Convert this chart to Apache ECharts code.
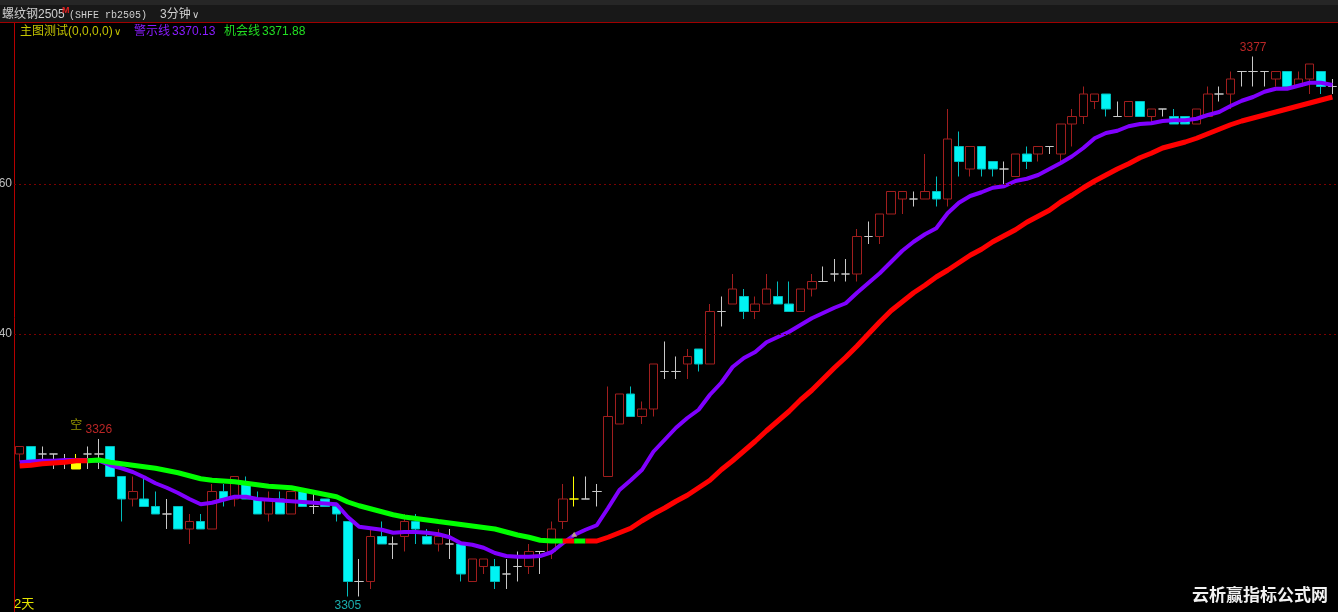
<!DOCTYPE html>
<html><head><meta charset="utf-8">
<script src="https://cdn.jsdelivr.net/npm/echarts@6/dist/echarts.min.js"></script>
<style>html,body{margin:0;padding:0;background:#000;overflow:hidden}#c{width:1338px;height:612px}</style>
</head><body><div id="c"></div>
<script>
// ---- data (3-minute bars, rb2505) : [open, close, low, high]
const bars = [
[3324,3325,3323,3325],[3325,3323,3323,3325],[3324,3324,3323,3325],[3324,3324,3322,3324],
[3323,3323,3322,3324],[3323,3322,3322,3324],[3324,3324,3322,3325],[3324,3324,3322,3326],
[3325,3321,3321,3325],[3321,3318,3315,3321],[3318,3319,3317,3321],[3318,3317,3317,3321],
[3317,3316,3316,3319],[3316,3316,3314,3318],[3317,3314,3314,3317],[3314,3315,3312,3316],
[3315,3314,3314,3316],[3314,3319,3314,3320],[3319,3318,3317,3320],[3318,3321,3317,3321],
[3320,3318,3318,3321],[3318,3316,3316,3319],[3316,3318,3315,3319],[3318,3316,3316,3319],
[3316,3319,3316,3319],[3319,3317,3317,3319],[3317,3317,3316,3319],[3318,3317,3317,3318],
[3317,3316,3315,3317],[3315,3307,3305,3315],[3307,3307,3305,3310],[3307,3313,3306,3314],
[3313,3312,3312,3315],[3312,3312,3310,3313],[3313,3315,3311,3316],[3315,3314,3312,3316],
[3313,3312,3312,3314],[3312,3313,3311,3314],[3312,3312,3310,3314],[3312,3308,3307,3312],
[3307,3310,3307,3310],[3309,3310,3308,3310],[3309,3307,3306,3310],[3308,3308,3306,3310],
[3309,3309,3307,3311],[3309,3311,3308,3312],[3311,3311,3308,3311],[3311,3314,3310,3315],
[3315,3318,3314,3320],[3318,3318,3317,3321],[3318,3318,3318,3321],[3319,3319,3317,3320],
[3321,3329,3321,3333],[3328,3332,3328,3332],[3332,3329,3329,3333],[3329,3330,3328,3331],
[3330,3336,3329,3336],[3335,3335,3334,3339],[3335,3335,3334,3337],[3336,3337,3334,3338],
[3338,3336,3335,3338],[3336,3343,3336,3344],[3343,3343,3341,3345],[3344,3346,3344,3348],
[3345,3343,3342,3346],[3343,3344,3342,3345],[3344,3346,3344,3348],[3345,3344,3344,3347],
[3344,3343,3343,3347],[3343,3346,3343,3346],[3346,3347,3345,3348],[3347,3347,3347,3349],
[3348,3348,3347,3350],[3348,3348,3347,3350],[3348,3353,3347,3354],[3353,3353,3352,3355],
[3353,3356,3352,3356],[3356,3359,3356,3359],[3358,3359,3356,3359],[3358,3358,3357,3359],
[3358,3359,3358,3364],[3359,3358,3357,3361],[3358,3366,3357,3370],[3365,3363,3361,3367],
[3362,3365,3361,3365],[3365,3362,3361,3365],[3363,3362,3361,3363],[3362,3362,3360,3363],
[3361,3364,3361,3364],[3364,3363,3362,3365],[3364,3365,3363,3365],[3365,3365,3364,3365],
[3364,3368,3363,3368],[3368,3369,3365,3370],[3369,3372,3368,3373],[3371,3372,3370,3372],
[3372,3370,3369,3372],[3369,3369,3369,3371],[3369,3371,3369,3371],[3371,3369,3369,3371],
[3369,3370,3368,3370],[3370,3370,3369,3370],[3369,3368,3368,3370],[3369,3368,3368,3369],
[3368,3370,3368,3370],[3369,3372,3369,3373],[3372,3372,3371,3373],[3372,3374,3370,3375],
[3375,3375,3373,3375],[3375,3375,3373,3377],[3375,3375,3373,3375],[3374,3375,3373,3375],
[3375,3373,3373,3375],[3373,3374,3373,3375],[3374,3376,3372,3376],[3375,3373,3372,3375],
[3373,3373,3372,3374]
];
const categories = bars.map((_, i) => String(i));

// 警示线 (purple)
const warnLine = [
3322.9,3323.0,3323.1,3323.1,3323.2,3323.2,3323.2,3323.1,
3322.5,3322.1,3321.6,3320.9,3320.1,3319.5,3318.8,3318.0,
3317.3,3317.5,3317.9,3318.3,3318.3,3318.0,3317.9,3317.8,
3317.7,3317.6,3317.5,3317.4,3317.3,3315.6,3314.3,3314.1,
3313.9,3313.5,3313.6,3313.6,3313.5,3313.3,3312.9,3312.1,
3311.9,3311.5,3310.8,3310.4,3310.3,3310.3,3310.4,3310.9,
3312.1,3313.2,3313.9,3314.5,3316.8,3319.2,3320.5,3321.9,
3324.3,3325.9,3327.5,3328.8,3329.9,3331.9,3333.5,3335.6,
3336.8,3337.6,3338.9,3339.6,3340.3,3341.2,3342.1,3342.8,
3343.5,3344.1,3345.5,3346.8,3348.1,3349.6,3351.1,3352.3,
3353.3,3354.1,3356.1,3357.5,3358.4,3358.9,3359.5,3359.7,
3360.4,3360.7,3361.2,3362.0,3362.8,3363.7,3364.8,3366.1,
3366.8,3367.1,3367.7,3368.0,3368.1,3368.4,3368.5,3368.5,
3368.7,3369.2,3369.6,3370.4,3371.1,3371.6,3372.3,3372.7,
3372.7,3373.1,3373.5,3373.5,3373.2
];

// 机会线 (red / green)
const chanceLine = [
3322.4,3322.5,3322.7,3322.8,3322.9,3323.1,3323.1,3323.2,
3322.9,3322.7,3322.5,3322.3,3322.1,3321.8,3321.5,3321.1,
3320.7,3320.5,3320.4,3320.3,3320.1,3319.9,3319.7,3319.6,
3319.5,3319.2,3318.9,3318.6,3318.3,3317.6,3317.1,3316.7,
3316.3,3315.9,3315.6,3315.4,3315.2,3315.0,3314.8,3314.6,
3314.4,3314.2,3314.0,3313.6,3313.2,3312.9,3312.5,3312.4,
3312.4,3312.4,3312.4,3312.4,3312.9,3313.5,3314.1,3315.1,
3316.0,3316.8,3317.7,3318.5,3319.5,3320.5,3321.9,3323.1,
3324.4,3325.7,3327.1,3328.4,3329.7,3331.2,3332.5,3334.0,
3335.5,3336.9,3338.4,3340.0,3341.6,3343.1,3344.3,3345.5,
3346.5,3347.6,3348.5,3349.5,3350.5,3351.3,3352.3,3353.1,
3353.9,3354.9,3355.7,3356.5,3357.6,3358.5,3359.5,3360.4,
3361.2,3362.0,3362.7,3363.5,3364.1,3364.8,3365.2,3365.6,
3366.1,3366.7,3367.3,3367.9,3368.4,3368.8,3369.2,3369.6,
3370.0,3370.4,3370.8,3371.2,3371.6
];
// segment runs of 机会线: [state, fromBar, toBar]  (R = red, G = green)
const chanceRuns = [['R',0,6],['G',6,48],['R',48,49],['G',49,50],['R',50,116]];

const yLabelValues = [3340, 3360];
const highMark = [109, 3377];
const highMark2 = [7, 3326];
const lowMark = [29, 3305];
const shortSignalBar = 5;     // 空
const signalBars = [5, 49];   // highlighted bars
const buySignalBar = 49;

// ---- build
const RED = '#ff0000', GREEN = '#00ff00';
const chanceSeries = chanceRuns.map((r, k) => {
  const arr = chanceLine.map((v, i) => (i >= r[1] && i <= r[2]) ? v : null);
  return {
    type: 'line', data: arr, symbol: 'none', smooth: false, connectNulls: false,
    lineStyle: { color: r[0] === 'R' ? RED : GREEN, width: 5 },
    z: 5 + k, silent: true, animation: false
  };
});

const candleData = bars.map((b, i) => {
  if (signalBars.includes(i)) {
    return { value: b, itemStyle: { color: '#ffff00', color0: '#ffff00', borderColor: '#ffff00', borderColor0: '#e0e000', borderColorDoji: '#ffff00' } };
  }
  return b;
});

const chart = echarts.init(document.getElementById('c'), null, { renderer: 'canvas' });
const fontLatin = "'Liberation Sans', 'Noto Sans CJK SC', sans-serif";
const headerGraphics = [
  { type: 'rect', shape: { x: 0, y: 0, width: 1338, height: 23 }, style: { fill: '#181818' }, z: 100 },
  { type: 'rect', shape: { x: 0, y: 0, width: 1338, height: 5 }, style: { fill: '#262626' }, z: 100 },
  { type: 'rect', shape: { x: 0, y: 22, width: 1338, height: 1 }, style: { fill: '#a00000' }, z: 101 },
  { type: 'text', x: 2, y: 15, z: 102, style: { text: '螺纹钢2505', fill: '#cfcfcf', font: "12px " + fontLatin, verticalAlign: 'middle' } },
  { type: 'text', x: 62, y: 11, z: 102, style: { text: 'M', fill: '#e02020', font: "bold 9px " + fontLatin, verticalAlign: 'middle' } },
  { type: 'text', x: 69, y: 15, z: 102, style: { text: '(SHFE rb2505)', fill: '#cfcfcf', font: "10px 'Liberation Mono', 'DejaVu Sans Mono', monospace", verticalAlign: 'middle' } },
  { type: 'text', x: 160, y: 15, z: 102, style: { text: '3分钟', fill: '#cfcfcf', font: "12px " + fontLatin, verticalAlign: 'middle' } },
  { type: 'text', x: 192, y: 15, z: 102, style: { text: '∨', fill: '#cfcfcf', font: "10px 'DejaVu Sans', sans-serif", verticalAlign: 'middle' } },
  { type: 'text', x: 20, y: 32, z: 102, style: { text: '主图测试(0,0,0,0)', fill: '#c4c400', font: "12px " + fontLatin, verticalAlign: 'middle' } },
  { type: 'text', x: 114, y: 32, z: 102, style: { text: '∨', fill: '#c4c400', font: "10px 'DejaVu Sans', sans-serif", verticalAlign: 'middle' } },
  { type: 'text', x: 134, y: 32, z: 102, style: { text: '警示线', fill: '#8a1cff', font: "12px " + fontLatin, verticalAlign: 'middle' } },
  { type: 'text', x: 172, y: 32, z: 102, style: { text: '3370.13', fill: '#8a1cff', font: "12px " + fontLatin, verticalAlign: 'middle' } },
  { type: 'text', x: 224, y: 32, z: 102, style: { text: '机会线', fill: '#22dd22', font: "12px " + fontLatin, verticalAlign: 'middle' } },
  { type: 'text', x: 262, y: 32, z: 102, style: { text: '3371.88', fill: '#22dd22', font: "12px " + fontLatin, verticalAlign: 'middle' } },
  { type: 'text', x: 14, y: 604, z: 102, style: { text: '2天', fill: '#e6e600', font: "13px " + fontLatin, verticalAlign: 'middle' } },
  { type: 'text', x: 1192, y: 595, z: 102, style: { text: '云析赢指标公式网', fill: '#f2f2f2', font: "bold 17px 'Noto Sans CJK SC', sans-serif", verticalAlign: 'middle' } }
];

chart.setOption({
  backgroundColor: '#000000',
  animation: false,
  grid: { left: 14, top: 23, width: 1327, height: 589, containLabel: false },
  xAxis: {
    type: 'category', data: categories, boundaryGap: true,
    axisLine: { show: false }, axisTick: { show: false }, axisLabel: { show: false }, splitLine: { show: false }
  },
  yAxis: {
    type: 'value', min: 3302.933, max: 3381.467, scale: true,
    axisLine: { show: true, lineStyle: { color: '#b40000', width: 1 } },
    axisTick: { show: false },
    splitLine: { show: false },
    axisLabel: { show: false }
  },
  series: [
    {
      type: 'candlestick', data: candleData, barWidth: 9, z: 2,
      itemStyle: {
        color: 'rgba(0,0,0,0)', color0: '#00f4f4',
        borderColor: '#a01e1e', borderColor0: '#00bcbc',
        borderColorDoji: '#c8c8c8', borderWidth: 1
      },
      markLine: {
        silent: true, symbol: 'none', animation: false,
        lineStyle: { color: '#7a0000', type: [2, 3], width: 1 },
        label: { show: false },
        data: yLabelValues.map(v => ({ yAxis: v }))
      }
    },
    {
      type: 'line', data: warnLine, symbol: 'none', smooth: false, z: 4, silent: true,
      lineStyle: { color: '#8000ff', width: 4 }
    },
    ...chanceSeries,
    {
      type: 'scatter', z: 20, symbolSize: 0, silent: true,
      data: [highMark, highMark2],
      label: { show: true, position: 'top', distance: 3, color: '#e83030', fontSize: 12, fontFamily: fontLatin,
        formatter: p => String(p.value[1]) }
    },
    {
      type: 'scatter', z: 20, symbolSize: 0, silent: true,
      data: [lowMark],
      label: { show: true, position: 'bottom', distance: 3, color: '#20d8d8', fontSize: 12, fontFamily: fontLatin,
        formatter: p => String(p.value[1]) }
    },
    {
      type: 'scatter', z: 20, symbolSize: 0, silent: true,
      data: [[shortSignalBar, bars[shortSignalBar][3]]],
      label: { show: true, position: 'top', distance: 24, color: '#b8b800', fontSize: 12,
        fontFamily: "'Noto Sans CJK SC', sans-serif", formatter: '空' }
    },
    {
      type: 'scatter', z: 21, silent: true, symbol: 'triangle', symbolSize: [6, 5],
      itemStyle: { color: '#c8c070' },
      data: [[buySignalBar, chanceLine[buySignalBar] + 0.9]]
    }
  ],
  graphic: headerGraphics
});

// y-axis tick labels placed through the axis scale (left part falls off the canvas as in the original)
const tickLabels = yLabelValues.map(v => ({
  type: 'text', x: 12, y: chart.convertToPixel({ yAxisIndex: 0 }, v), z: 102,
  style: { text: String(v), fill: '#bdbdbd', font: "12px " + fontLatin, textAlign: 'right', verticalAlign: 'middle' }
}));
chart.setOption({ graphic: headerGraphics.concat(tickLabels) });
</script>
</body></html>
